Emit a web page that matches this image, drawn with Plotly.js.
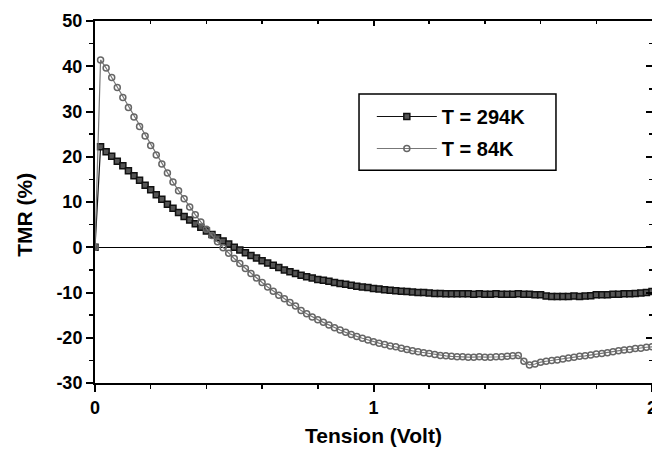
<!DOCTYPE html>
<html>
<head>
<meta charset="utf-8">
<script src="https://cdn.plot.ly/plotly-3.0.1.min.js"></script>
<style>html,body{margin:0;padding:0;background:#fff;}#chart{width:652px;height:454px;}</style>
</head>
<body>
<div id="chart"></div>
<script>
// Bias voltage (Volt)
const tension = [
  0.00,0.02,0.04,0.06,0.08,0.10,0.12,0.14,0.16,0.18,
  0.20,0.22,0.24,0.26,0.28,0.30,0.32,0.34,0.36,0.38,
  0.40,0.42,0.44,0.46,0.48,0.50,0.52,0.54,0.56,0.58,
  0.60,0.62,0.64,0.66,0.68,0.70,0.72,0.74,0.76,0.78,
  0.80,0.82,0.84,0.86,0.88,0.90,0.92,0.94,0.96,0.98,
  1.00,1.02,1.04,1.06,1.08,1.10,1.12,1.14,1.16,1.18,
  1.20,1.22,1.24,1.26,1.28,1.30,1.32,1.34,1.36,1.38,
  1.40,1.42,1.44,1.46,1.48,1.50,1.52,1.54,1.56,1.58,
  1.60,1.62,1.64,1.66,1.68,1.70,1.72,1.74,1.76,1.78,
  1.80,1.82,1.84,1.86,1.88,1.90,1.92,1.94,1.96,1.98,
  2.00
];
// TMR (%) at T = 294K
const tmr294 = [
  0.0,22.2,21.1,20.1,19.0,18.0,16.9,15.8,14.8,13.7,
  12.7,11.6,10.6,9.5,8.6,7.7,6.8,6.0,5.2,4.4,
  3.6,2.8,2.1,1.4,0.7,0.0,-0.6,-1.2,-1.8,-2.4,
  -3.0,-3.5,-4.0,-4.5,-5.0,-5.4,-5.8,-6.2,-6.5,-6.8,
  -7.1,-7.3,-7.5,-7.8,-8.0,-8.2,-8.4,-8.6,-8.8,-8.9,
  -9.1,-9.2,-9.4,-9.5,-9.6,-9.7,-9.8,-9.9,-10.0,-10.0,
  -10.1,-10.2,-10.2,-10.3,-10.3,-10.3,-10.3,-10.3,-10.4,-10.3,
  -10.4,-10.4,-10.3,-10.4,-10.4,-10.4,-10.3,-10.4,-10.4,-10.5,
  -10.5,-10.8,-10.9,-10.9,-10.9,-10.9,-10.8,-10.9,-10.8,-10.7,
  -10.5,-10.5,-10.5,-10.4,-10.4,-10.3,-10.3,-10.2,-10.1,-10.0,
  -9.8
];
// TMR (%) at T = 84K
const tmr84 = [
  0.0,41.4,39.6,37.5,35.3,33.1,30.9,28.8,26.7,24.6,
  22.5,20.4,18.4,16.4,14.4,12.5,10.7,8.9,7.2,5.6,
  4.0,2.6,1.2,-0.1,-1.3,-2.5,-3.6,-4.7,-5.8,-6.8,
  -7.8,-8.8,-9.7,-10.6,-11.4,-12.2,-13.0,-14.0,-14.7,-15.4,
  -16.0,-16.6,-17.2,-17.8,-18.3,-18.8,-19.3,-19.7,-20.1,-20.5,
  -20.9,-21.2,-21.5,-21.8,-22.0,-22.3,-22.6,-22.9,-23.1,-23.3,
  -23.5,-23.7,-23.9,-24.0,-24.1,-24.2,-24.2,-24.3,-24.3,-24.2,
  -24.3,-24.3,-24.2,-24.2,-24.1,-24.0,-23.9,-25.2,-26.0,-25.8,
  -25.4,-25.2,-25.0,-24.9,-24.7,-24.5,-24.3,-24.1,-24.0,-23.8,
  -23.6,-23.5,-23.3,-23.1,-22.9,-22.7,-22.6,-22.4,-22.3,-22.1,
  -22.0
];
const seriesNames = ['T = 294K', 'T = 84K'];
const xTickLabels = ['0', '1', '2'];
const xTickVals = [0, 1, 2];
const yTickVals = [-30, -20, -10, 0, 10, 20, 30, 40, 50];
const yTickLabels = ['-30', '-20', '-10', '0', '10', '20', '30', '40', '50'];
const xTitle = 'Tension (Volt)';
const yTitle = 'TMR (%)';

const FONT = 'Arial, "Liberation Sans", Helvetica, sans-serif';

const traces = [
  {
    x: tension, y: tmr294, name: seriesNames[0], type: 'scatter', mode: 'lines+markers',
    legendgroup: 'a',
    line: {color: '#111', width: 1.2},
    marker: {symbol: 'square', size: 6, color: '#555', line: {color: '#111', width: 1.5}}
  },
  {
    x: tension, y: tmr84, name: seriesNames[1], type: 'scatter', mode: 'lines+markers',
    legendgroup: 'b',
    line: {color: '#777', width: 1.2},
    marker: {symbol: 'circle-open', size: 6, color: '#666', line: {color: '#666', width: 1.5}}
  },
  {
    x: [], y: [], xaxis: 'x2', yaxis: 'y2', type: 'scatter', mode: 'markers',
    showlegend: false, hoverinfo: 'skip'
  }
];

const axisCommon = {
  showgrid: false, showline: true, linecolor: '#000', linewidth: 2,
  tickcolor: '#000', tickwidth: 2, ticklen: 7
};

const layout = {
  width: 652, height: 454,
  margin: {l: 95, r: 0, t: 21, b: 71},
  paper_bgcolor: '#fff', plot_bgcolor: '#fff',
  showlegend: true,
  font: {family: FONT, color: '#000'},
  xaxis: Object.assign({}, axisCommon, {
    range: [0, 2], tickmode: 'array', tickvals: xTickVals, ticktext: xTickLabels,
    ticks: 'outside', mirror: true, zeroline: false, ticklabeloverflow: 'allow',
    minor: {dtick: 0.2, tick0: 0, ticks: 'outside', ticklen: 4, tickwidth: 1.5, tickcolor: '#000', showgrid: false},
    tickfont: {family: FONT, size: 18, weight: 'bold', color: '#000'},
    title: {text: xTitle, font: {family: FONT, size: 21, weight: 'bold', color: '#000'}, standoff: 12}
  }),
  yaxis: Object.assign({}, axisCommon, {
    range: [-30, 50], tickmode: 'array', tickvals: yTickVals, ticktext: yTickLabels,
    ticks: 'outside', mirror: true,
    zeroline: true, zerolinecolor: '#000', zerolinewidth: 1.5,
    minor: {dtick: 5, tick0: 0, ticks: 'outside', ticklen: 4, tickwidth: 1.5, tickcolor: '#000', showgrid: false},
    tickfont: {family: FONT, size: 18, weight: 'bold', color: '#000'}
  }),
  xaxis2: {
    overlaying: 'x', side: 'top', range: [0, 2], showgrid: false, zeroline: false,
    showline: false, showticklabels: false, ticks: 'inside', ticklen: 5, tickwidth: 2, tickcolor: '#000',
    tickmode: 'array', tickvals: xTickVals,
    minor: {dtick: 0.2, tick0: 0, ticks: 'inside', ticklen: 3, tickwidth: 1.5, tickcolor: '#000', showgrid: false}
  },
  yaxis2: {
    overlaying: 'y', side: 'right', range: [-30, 50], showgrid: false, zeroline: false,
    showline: false, showticklabels: false, ticks: 'inside', ticklen: 6, tickwidth: 2, tickcolor: '#000',
    tickmode: 'array', tickvals: yTickVals,
    minor: {dtick: 5, tick0: 0, ticks: 'inside', ticklen: 3, tickwidth: 1.5, tickcolor: '#000', showgrid: false}
  },
  legend: {
    x: 0.497, y: 0.79, xanchor: 'left', yanchor: 'top',
    bgcolor: 'rgba(0,0,0,0)', borderwidth: 0,
    font: {family: FONT, size: 20, weight: 'bold', color: '#000'},
    itemwidth: 60, traceorder: 'grouped', tracegroupgap: 3
  },
  shapes: [{
    type: 'rect', xref: 'paper', yref: 'paper',
    x0: 0.474, x1: 0.8276, y0: 0.588, y1: 0.798,
    line: {color: '#000', width: 1.5}, fillcolor: '#fff', layer: 'above'
  }],
  annotations: [{
    text: yTitle, xref: 'paper', yref: 'paper', x: -0.128, y: 0.464,
    xanchor: 'center', yanchor: 'middle', textangle: -90, showarrow: false,
    font: {family: FONT, size: 21, weight: 'bold', color: '#000'}
  }]
};

Plotly.newPlot('chart', traces, layout, {displayModeBar: false, staticPlot: true});
</script>
</body>
</html>
